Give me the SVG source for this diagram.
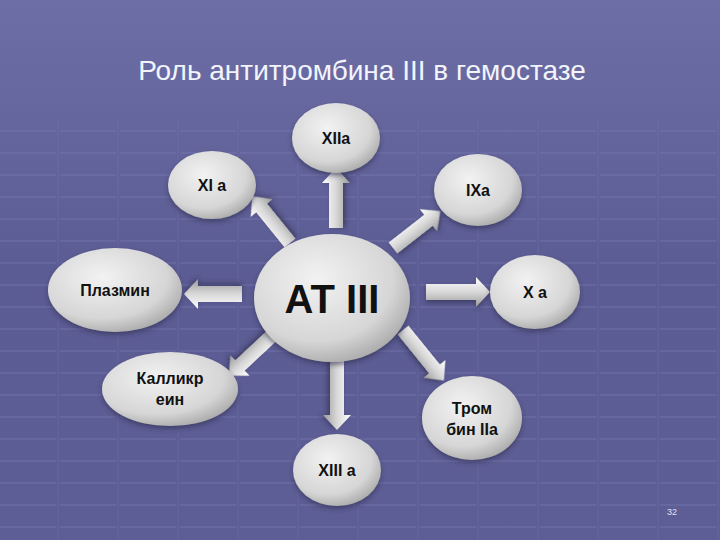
<svg xmlns="http://www.w3.org/2000/svg" width="720" height="540" viewBox="0 0 720 540">
<defs>
<linearGradient id="bg" x1="0" y1="0" x2="0" y2="1">
<stop offset="0" stop-color="#6e6ea6"/><stop offset="0.5" stop-color="#5c5c94"/><stop offset="1" stop-color="#5e5e96"/>
</linearGradient>
<radialGradient id="ng" cx="0.4" cy="0.35" r="0.7">
<stop offset="0" stop-color="#f2f2f2"/><stop offset="0.7" stop-color="#d6d6d6"/><stop offset="1" stop-color="#a8a8a8"/>
</radialGradient>
<linearGradient id="ag" x1="0" y1="0" x2="0" y2="1">
<stop offset="0" stop-color="#ffffff"/><stop offset="0.5" stop-color="#d8d8d8"/><stop offset="1" stop-color="#9a9a9a"/>
</linearGradient>
<pattern id="grid" width="60" height="22" patternUnits="userSpaceOnUse">
<path d="M0 21H56" stroke="#8a8ac0" stroke-width="1.2" opacity="0.45"/>
<path d="M58 0V22" stroke="#7a7ab2" stroke-width="1" opacity="0.25"/>
</pattern>
<filter id="sh" x="-20%" y="-20%" width="140%" height="150%"><feDropShadow dx="0" dy="3" stdDeviation="2.5" flood-color="#2a2a50" flood-opacity="0.6"/></filter>
</defs>
<style>
.n{fill:url(#ng);filter:url(#sh)}
.t{font-family:"Liberation Sans",Arial,sans-serif;font-size:16px;font-weight:bold;fill:#111;text-anchor:middle}
.a{fill:url(#ag);filter:url(#sh)}
</style>
<rect width="720" height="540" fill="url(#bg)"/>
<rect y="120" width="720" height="420" fill="url(#grid)"/>
<text x="362" y="80" font-family="Liberation Sans,Arial,sans-serif" font-size="28" fill="#f2f4fc" text-anchor="middle">Роль антитромбина III в гемостазе</text>
<g id="connectors">
<polygon class="a" points="0,-7 45,-7 45,-14 60,0 45,14 45,7 0,7" transform="translate(336,228) rotate(-90)"/>
<polygon class="a" points="0,-7 45,-7 45,-14 60,0 45,14 45,7 0,7" transform="translate(290,243) rotate(-129)"/>
<polygon class="a" points="0,-7 45,-7 45,-14 60,0 45,14 45,7 0,7" transform="translate(393,248) rotate(-38)"/>
<polygon class="a" points="0,-8 44,-8 44,-15 58,0 44,15 44,8 0,8" transform="translate(242,294) rotate(180)"/>
<polygon class="a" points="0,-8 50,-8 50,-15 64,0 50,15 50,8 0,8" transform="translate(426,292)"/>
<polygon class="a" points="0,-7 52,-7 52,-14 67,0 52,14 52,7 0,7" transform="translate(278,330) rotate(137)"/>
<polygon class="a" points="0,-7 55,-7 55,-14 70,0 55,14 55,7 0,7" transform="translate(337,360) rotate(90)"/>
<polygon class="a" points="0,-7 50,-7 50,-14 65,0 50,14 50,7 0,7" transform="translate(403,330) rotate(51)"/>
</g>
<g id="at3"><ellipse class="n" cx="332" cy="298" rx="78" ry="64"/><text class="t" x="332" y="313" style="font-size:40px">AT  III</text></g>
<g id="xiia"><ellipse class="n" cx="336" cy="138" rx="44" ry="35"/><text class="t" x="336" y="144">XIIa</text></g>
<g id="xia"><ellipse class="n" cx="212" cy="185" rx="44" ry="34"/><text class="t" x="212" y="191">XI a</text></g>
<g id="ixa"><ellipse class="n" cx="478" cy="190" rx="44" ry="36"/><text class="t" x="478" y="196">IXa</text></g>
<g id="plasmin"><ellipse class="n" cx="115" cy="290" rx="67" ry="42"/><text class="t" x="115" y="296">Плазмин</text></g>
<g id="xa"><ellipse class="n" cx="535" cy="292" rx="45" ry="37"/><text class="t" x="535" y="298">X a</text></g>
<g id="kallikrein"><ellipse class="n" cx="170" cy="389" rx="68" ry="37"/><text class="t" x="170" y="384">Калликр</text><text class="t" x="170" y="405">еин</text></g>
<g id="thrombin"><ellipse class="n" cx="472" cy="418" rx="50" ry="42"/><text class="t" x="472" y="414">Тром</text><text class="t" x="472" y="435">бин IIa</text></g>
<g id="xiiia"><ellipse class="n" cx="337" cy="470" rx="44" ry="36"/><text class="t" x="337" y="476">XIII a</text></g>
<text x="672" y="515" font-family="Liberation Sans,Arial,sans-serif" font-size="9" fill="#e0e0f0" text-anchor="middle">32</text>
</svg>
